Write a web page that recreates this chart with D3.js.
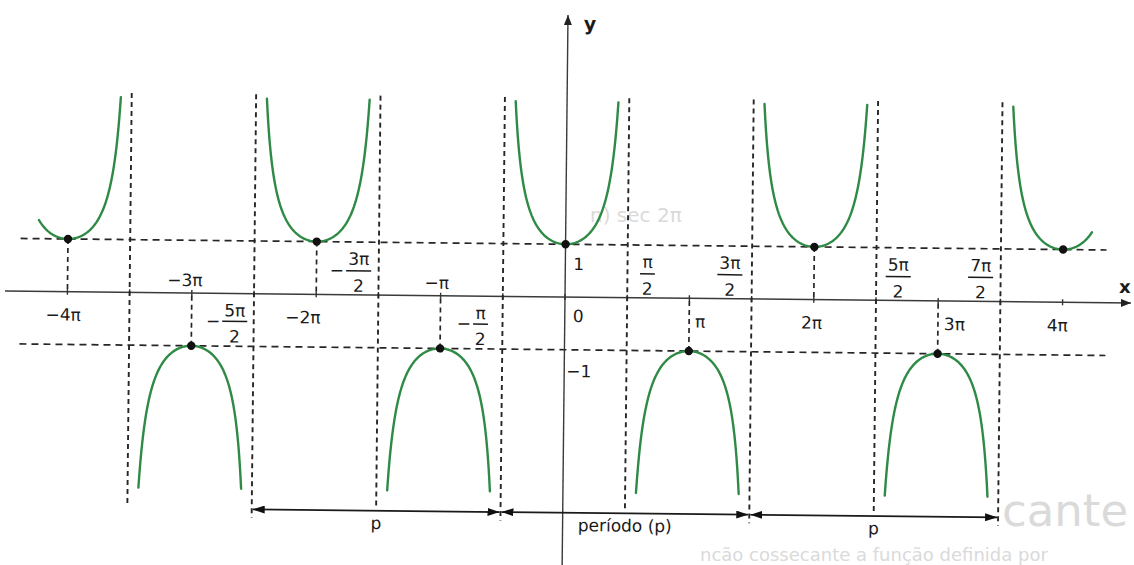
<!DOCTYPE html>
<html>
<head>
<meta charset="utf-8">
<script src="https://cdn.jsdelivr.net/npm/d3@7"></script>
<style>
  html, body { margin: 0; padding: 0; background: #ffffff; }
  svg { display: block; }
  text { font-family: "DejaVu Sans", "Liberation Sans", sans-serif; fill: #1a1a1a; }
</style>
</head>
<body>
<svg id="chart" width="1134" height="565"></svg>
<script>
// ---- y = sec x, plotted over roughly [-4π, 4π] (x values in multiples of π) ----
const curveDomain = [-4.235, 4.23];           // visible extent of the graph
const curveLimit = 3.7;                        // |sec x| at which each branch is cut
const asymptotes = [-3.5, -2.5, -1.5, -0.5, 0.5, 1.5, 2.5, 3.5];
const extremaX = [-4, -3, -2, -1, 0, 1, 2, 3, 4];
const extremaWithGuide = [-4, -3, -2, -1, 1, 2, 3];
const periodArrows = [
  { from: -2.5, to: -0.5, label: "p" },
  { from: -0.5, to: 1.5, label: "período (p)" },
  { from: 1.5, to: 3.5, label: "p" }
];
const multipleLabels = [
  { v: -4, text: "−4π" }, { v: -3, text: "−3π" }, { v: -2, text: "−2π" },
  { v: -1, text: "−π" }, { v: 1, text: "π" }, { v: 2, text: "2π" },
  { v: 3, text: "3π" }, { v: 4, text: "4π" }
];
const fractionLabels = [
  { v: -2.5, num: "5π", den: "2", neg: true },
  { v: -1.5, num: "3π", den: "2", neg: true },
  { v: -0.5, num: "π", den: "2", neg: true },
  { v: 0.5, num: "π", den: "2", neg: false },
  { v: 1.5, num: "3π", den: "2", neg: false },
  { v: 2.5, num: "5π", den: "2", neg: false },
  { v: 3.5, num: "7π", den: "2", neg: false }
];
const levelLabels = [{ v: 1, text: "1" }, { v: 0, text: "0" }, { v: -1, text: "−1" }];

// label placement (pixels relative to the tick), kept apart from the values
const multipleLayout = {
  "-4": { dx: -4, side: "below", anchor: "middle" },
  "-3": { dx: -7, side: "above", anchor: "middle" },
  "-2": { dx: -13, side: "below", anchor: "middle" },
  "-1": { dx: -4, side: "above", anchor: "middle" },
  "1": { dx: 6, side: "below", anchor: "start" },
  "2": { dx: -2, side: "below", anchor: "middle" },
  "3": { dx: 6, side: "below", anchor: "start" },
  "4": { dx: -5, side: "below", anchor: "middle" }
};
const fractionLayout = {
  "-2.5": { dx: -19, side: "below" },
  "-1.5": { dx: -20, side: "above" },
  "-0.5": { dx: -22, side: "below" },
  "0.5": { dx: 20, side: "above" },
  "1.5": { dx: -22, side: "above" },
  "2.5": { dx: 22, side: "above" },
  "3.5": { dx: -20, side: "above" }
};

const ox = 565, oy = 297;
const pxPerPi = 124.4, pxPerUnit = 52.75;

const x = d3.scaleLinear().domain([0, 1]).range([ox, ox + pxPerPi]);
const y = d3.scaleLinear().domain([0, 1]).range([oy, oy - pxPerUnit]);

const svg = d3.select("#chart");

// faint print showing through from the facing page
const ghost = svg.append("g").style("pointer-events", "none");
const ghostItems = [
  { t: "n) sec 2π", x: 590, y: 222, s: 20 },
  { t: "cante", x: 1002, y: 526, s: 45 },
  { t: "ncão cossecante a função definida por", x: 700, y: 561, s: 18 }
];
ghostItems.forEach(d => {
  ghost.append("text")
    .attr("x", d.x).attr("y", d.y)
    .style("font-size", d.s + "px")
    .style("fill", "#dadada")
    .text(d.t);
});

// the whole figure sits slightly tilted on the page
const g = svg.append("g").attr("transform", `rotate(0.61, ${ox}, ${oy})`);

const defs = svg.append("defs");
defs.append("marker")
  .attr("id", "head").attr("viewBox", "0 0 12 8")
  .attr("refX", 12).attr("refY", 4)
  .attr("markerWidth", 12).attr("markerHeight", 8)
  .attr("markerUnits", "userSpaceOnUse")
  .attr("orient", "auto-start-reverse")
  .append("path").attr("d", "M0,0 L12,4 L0,8 Z").attr("fill", "#111");
defs.append("marker")
  .attr("id", "axisHead").attr("viewBox", "0 0 10 8")
  .attr("refX", 10).attr("refY", 4)
  .attr("markerWidth", 10).attr("markerHeight", 8)
  .attr("markerUnits", "userSpaceOnUse")
  .attr("orient", "auto")
  .append("path").attr("d", "M0,0 L10,4 L0,8 Z").attr("fill", "#222");

// axes
g.append("line")
  .attr("x1", 5).attr("x2", 1131).attr("y1", y(0)).attr("y2", y(0))
  .attr("stroke", "#3a3a3a").attr("stroke-width", 1.5)
  .attr("marker-end", "url(#axisHead)");
g.append("line")
  .attr("x1", x(0)).attr("x2", x(0)).attr("y1", 580).attr("y2", 15)
  .attr("stroke", "#3a3a3a").attr("stroke-width", 1.4)
  .attr("marker-end", "url(#axisHead)");
g.append("text").attr("x", x(0) + 16).attr("y", 30)
  .style("font-size", "19px").style("font-weight", "bold").text("y");
g.append("text").attr("x", 1119).attr("y", 287)
  .style("font-size", "18px").style("font-weight", "bold").text("x");

// small ticks on the x axis at every multiple of π/2
const tickVals = d3.range(-8, 9).map(k => k / 2);
g.append("g").selectAll("line").data(tickVals).join("line")
  .attr("x1", d => x(d)).attr("x2", d => x(d))
  .attr("y1", y(0) - 3).attr("y2", y(0) + 3)
  .attr("stroke", "#333").attr("stroke-width", 1.4);

// horizontal guides at y = 1 and y = -1
[1, -1].forEach(v => {
  g.append("line")
    .attr("x1", 20).attr("x2", 1106)
    .attr("y1", y(v)).attr("y2", y(v))
    .attr("stroke", "#262626").attr("stroke-width", 1.7)
    .attr("stroke-dasharray", "7,5");
});

// vertical asymptotes
const arrowEnds = new Set(periodArrows.flatMap(p => [p.from, p.to]));
g.append("g").selectAll("line").data(asymptotes).join("line")
  .attr("x1", d => x(d)).attr("x2", d => x(d))
  .attr("y1", y(3.78))
  .attr("y2", d => y(arrowEnds.has(d) ? -4.25 : -4.05))
  .attr("stroke", "#262626").attr("stroke-width", 1.9)
  .attr("stroke-dasharray", "5,4");

// guides from each extremum to the x axis
g.append("g").selectAll("line").data(extremaWithGuide).join("line")
  .attr("x1", d => x(d)).attr("x2", d => x(d))
  .attr("y1", d => y(1 / Math.cos(d * Math.PI))).attr("y2", y(0))
  .attr("stroke", "#262626").attr("stroke-width", 1.7)
  .attr("stroke-dasharray", "5,4");

// branches of y = sec x
const half = Math.acos(1 / curveLimit) / Math.PI;
const branches = d3.range(-4, 5).map(k => {
  const lo = Math.max(curveDomain[0], k - half);
  const hi = Math.min(curveDomain[1], k + half);
  const n = 120;
  return d3.range(n + 1).map(i => {
    const t = lo + (hi - lo) * i / n;
    return [t, 1 / Math.cos(t * Math.PI)];
  });
});
const line = d3.line().x(d => x(d[0])).y(d => y(d[1]));
g.append("g").selectAll("path").data(branches).join("path")
  .attr("d", line)
  .attr("fill", "none").attr("stroke", "#2f8a45").attr("stroke-width", 2.4)
  .attr("stroke-linecap", "round");

// extreme points (±1)
g.append("g").selectAll("circle").data(extremaX).join("circle")
  .attr("cx", d => x(d)).attr("cy", d => y(1 / Math.cos(d * Math.PI)))
  .attr("r", 4.2).attr("fill", "#111");

// period arrows
const arrowY = y(-4.09);
periodArrows.forEach(p => {
  g.append("line")
    .attr("x1", x(p.from) + 1).attr("x2", x(p.to) - 1)
    .attr("y1", arrowY).attr("y2", arrowY)
    .attr("stroke", "#1a1a1a").attr("stroke-width", 1.7)
    .attr("marker-start", "url(#head)").attr("marker-end", "url(#head)");
  g.append("text")
    .attr("x", x((p.from + p.to) / 2)).attr("y", 531)
    .attr("text-anchor", "middle").style("font-size", "17px")
    .text(p.label);
});

// labels for integer multiples of π
multipleLabels.forEach(d => {
  const L = multipleLayout[String(d.v)];
  g.append("text")
    .attr("x", x(d.v) + L.dx)
    .attr("y", L.side === "below" ? 326 : 290)
    .attr("text-anchor", L.anchor)
    .style("font-size", "17px")
    .text(d.text);
});

// fraction labels for odd multiples of π/2
fractionLabels.forEach(d => {
  const L = fractionLayout[String(d.v)];
  const cx = x(d.v) + L.dx;
  const above = L.side === "above";
  const numY = above ? 267 : 320, barY = above ? 273 : 325, denY = above ? 294 : 346;
  const fg = g.append("g");
  const num = fg.append("text").attr("x", cx).attr("y", numY)
    .attr("text-anchor", "middle").style("font-size", "17px").text(d.num);
  const den = fg.append("text").attr("x", cx).attr("y", denY)
    .attr("text-anchor", "middle").style("font-size", "17px").text(d.den);
  const w = Math.max(num.node().getComputedTextLength(), den.node().getComputedTextLength());
  const hb = w / 2 + 2;
  fg.append("line").attr("x1", cx - hb).attr("x2", cx + hb)
    .attr("y1", barY).attr("y2", barY)
    .attr("stroke", "#1a1a1a").attr("stroke-width", 1.5);
  if (d.neg) {
    fg.append("text").attr("x", cx - hb - 2).attr("y", barY + 5.5)
      .attr("text-anchor", "end").style("font-size", "17px").text("−");
  }
});

// 1, 0, -1 beside the y axis
const levelY = { "1": 270, "0": 322, "-1": 377 };
levelLabels.forEach(d => {
  g.append("text")
    .attr("x", d.v < 0 ? x(0) + 2 : x(0) + 8)
    .attr("y", levelY[String(d.v)])
    .style("font-size", "17px")
    .text(d.text);
});
</script>
</body>
</html>
